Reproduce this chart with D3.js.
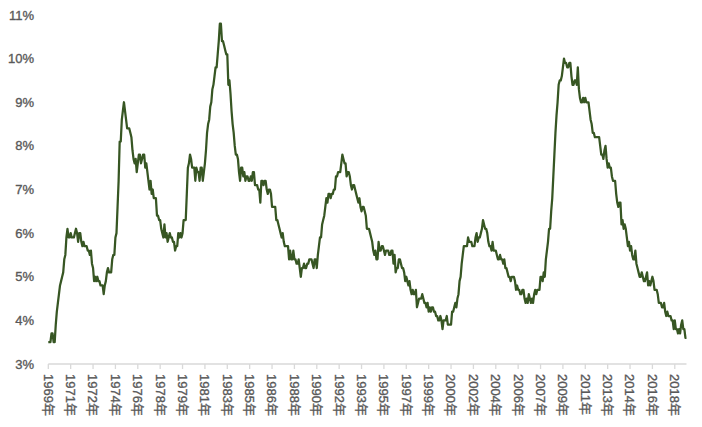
<!DOCTYPE html>
<html>
<head>
<meta charset="utf-8">
<script src="https://cdn.jsdelivr.net/npm/d3@7"></script>
<style>
  body { margin: 0; background: #fff; }
  svg text { font-family: "Liberation Sans", "Noto Sans CJK SC", sans-serif; fill: #595959; stroke: #595959; stroke-width: 0.35px; }
</style>
</head>
<body>
<svg id="chart" width="702" height="427"></svg>
<script>
// first month of the series (June 1969), monthly unemployment rate (%)
const startYear = 1969;
const startMonth = 6;
const rates = [
  3.5, 3.5, 3.5, 3.7, 3.7, 3.5, 3.5,
  3.9, 4.2, 4.4, 4.6, 4.8, 4.9, 5.0, 5.1, 5.4, 5.5, 5.9, 6.1,
  5.9, 5.9, 6.0, 5.9, 5.9, 5.9, 6.0, 6.1, 6.0, 5.8, 6.0, 6.0,
  5.8, 5.7, 5.8, 5.7, 5.7, 5.7, 5.6, 5.6, 5.5, 5.6, 5.3, 5.2,
  4.9, 5.0, 4.9, 5.0, 4.9, 4.9, 4.8, 4.8, 4.8, 4.6, 4.8, 4.9,
  5.1, 5.2, 5.1, 5.1, 5.1, 5.4, 5.5, 5.5, 5.9, 6.0, 6.6, 7.2,
  8.1, 8.1, 8.6, 8.8, 9.0, 8.8, 8.6, 8.4, 8.4, 8.4, 8.3, 8.2,
  7.9, 7.7, 7.6, 7.7, 7.4, 7.6, 7.8, 7.8, 7.6, 7.7, 7.8, 7.8,
  7.5, 7.6, 7.4, 7.2, 7.0, 7.2, 6.9, 7.0, 6.8, 6.8, 6.8, 6.4,
  6.4, 6.3, 6.3, 6.1, 6.0, 5.9, 6.2, 5.9, 6.0, 5.8, 5.9, 6.0,
  5.9, 5.9, 5.8, 5.8, 5.6, 5.7, 5.7, 6.0, 5.9, 6.0, 5.9, 6.0,
  6.3, 6.3, 6.3, 6.9, 7.5, 7.6, 7.8, 7.7, 7.5, 7.5, 7.5, 7.2,
  7.5, 7.4, 7.4, 7.2, 7.5, 7.5, 7.2, 7.4, 7.6, 7.9, 8.3, 8.5,
  8.6, 8.9, 9.0, 9.3, 9.4, 9.6, 9.8, 9.8, 10.1, 10.4, 10.8, 10.8,
  10.4, 10.4, 10.3, 10.2, 10.1, 10.1, 9.4, 9.5, 9.2, 8.8, 8.5, 8.3,
  8.0, 7.8, 7.8, 7.7, 7.4, 7.2, 7.5, 7.5, 7.3, 7.4, 7.2, 7.3,
  7.3, 7.2, 7.2, 7.3, 7.2, 7.4, 7.4, 7.1, 7.1, 7.1, 7.0, 7.0,
  6.7, 7.2, 7.2, 7.1, 7.2, 7.2, 7.0, 6.9, 7.0, 7.0, 6.9, 6.6,
  6.6, 6.6, 6.6, 6.3, 6.3, 6.2, 6.1, 6.0, 5.9, 6.0, 5.8, 5.7,
  5.7, 5.7, 5.7, 5.4, 5.6, 5.4, 5.4, 5.6, 5.4, 5.4, 5.3, 5.3,
  5.4, 5.2, 5.0, 5.2, 5.2, 5.3, 5.2, 5.2, 5.3, 5.3, 5.4, 5.4,
  5.4, 5.3, 5.2, 5.4, 5.4, 5.2, 5.5, 5.7, 5.9, 5.9, 6.2, 6.3,
  6.4, 6.6, 6.8, 6.7, 6.9, 6.9, 6.8, 6.9, 6.9, 7.0, 7.0, 7.3,
  7.3, 7.4, 7.4, 7.4, 7.6, 7.8, 7.7, 7.6, 7.6, 7.3, 7.4, 7.4,
  7.3, 7.1, 7.0, 7.1, 7.1, 7.0, 6.9, 6.8, 6.7, 6.8, 6.6, 6.5,
  6.6, 6.6, 6.5, 6.4, 6.1, 6.1, 6.1, 6.0, 5.9, 5.8, 5.6, 5.5,
  5.6, 5.4, 5.4, 5.8, 5.6, 5.6, 5.7, 5.7, 5.6, 5.5, 5.6, 5.6,
  5.6, 5.5, 5.5, 5.6, 5.6, 5.3, 5.5, 5.1, 5.2, 5.2, 5.4, 5.4,
  5.3, 5.2, 5.2, 5.1, 4.9, 5.0, 4.9, 4.8, 4.9, 4.7, 4.6, 4.7,
  4.6, 4.6, 4.7, 4.3, 4.4, 4.5, 4.5, 4.5, 4.6, 4.5, 4.4, 4.4,
  4.3, 4.4, 4.2, 4.3, 4.2, 4.3, 4.3, 4.2, 4.2, 4.1, 4.1, 4.0,
  4.0, 4.1, 4.0, 3.8, 4.0, 4.0, 4.0, 4.1, 3.9, 3.9, 3.9, 3.9,
  4.2, 4.2, 4.3, 4.4, 4.3, 4.5, 4.6, 4.9, 5.0, 5.3, 5.5, 5.7,
  5.7, 5.7, 5.7, 5.9, 5.8, 5.8, 5.8, 5.7, 5.7, 5.7, 5.9, 6.0,
  5.8, 5.9, 5.9, 6.0, 6.1, 6.3, 6.2, 6.1, 6.1, 6.0, 5.8, 5.7,
  5.7, 5.6, 5.8, 5.6, 5.6, 5.6, 5.5, 5.4, 5.4, 5.5, 5.4, 5.4,
  5.3, 5.4, 5.2, 5.2, 5.1, 5.0, 5.0, 4.9, 5.0, 5.0, 5.0, 4.9,
  4.7, 4.8, 4.7, 4.7, 4.6, 4.6, 4.7, 4.7, 4.5, 4.4, 4.5, 4.4,
  4.6, 4.5, 4.4, 4.5, 4.4, 4.6, 4.7, 4.6, 4.7, 4.7, 4.7, 5.0,
  5.0, 4.9, 5.1, 5.0, 5.4, 5.6, 5.8, 6.1, 6.1, 6.5, 6.8, 7.3,
  7.8, 8.3, 8.7, 9.0, 9.4, 9.5, 9.5, 9.6, 9.8, 10.0, 9.9, 9.9,
  9.8, 9.8, 9.9, 9.9, 9.6, 9.4, 9.4, 9.5, 9.5, 9.4, 9.8, 9.3,
  9.1, 9.0, 9.0, 9.1, 9.0, 9.1, 9.0, 9.0, 9.0, 8.8, 8.6, 8.5,
  8.3, 8.3, 8.2, 8.2, 8.2, 8.2, 8.2, 8.0, 7.8, 7.8, 7.7, 7.9,
  8.0, 7.7, 7.5, 7.6, 7.5, 7.5, 7.3, 7.2, 7.2, 7.2, 6.9, 6.7,
  6.6, 6.7, 6.7, 6.2, 6.3, 6.1, 6.2, 6.1, 5.9, 5.7, 5.8, 5.6,
  5.7, 5.5, 5.4, 5.4, 5.6, 5.3, 5.2, 5.1, 5.0, 5.0, 5.1, 5.0,
  4.9, 4.9, 5.0, 5.1, 4.8, 4.9, 4.8, 4.9, 5.0, 4.9, 4.7, 4.7,
  4.7, 4.6, 4.4, 4.4, 4.4, 4.3, 4.3, 4.4, 4.2, 4.1, 4.2, 4.1,
  4.1, 4.1, 4.0, 4.0, 3.8, 4.0, 3.8, 3.8, 3.7, 3.8, 3.7, 3.9,
  4.0, 3.8, 3.8, 3.6, 3.6
];
const yTicks = [3, 4, 5, 6, 7, 8, 9, 10, 11];
const labelEvery = 21; // one year label every 21 months

const months = rates.map((v, i) => {
  const m = startMonth - 1 + i;
  return { year: startYear + Math.floor(m / 12), month: (m % 12) + 1, value: v };
});
const keys = months.map(d => d.year + "-" + d.month);

const svg = d3.select("#chart");
const margin = { left: 48.3, right: 15.5, top: 15, bottom: 63 };
const width = 702, height = 427;

const x = d3.scalePoint()
  .domain(keys)
  .range([margin.left, width - margin.right]);

const y = d3.scaleLinear()
  .domain([3, 11])
  .range([height - margin.bottom, margin.top]);

// y axis labels (no axis line, no gridlines)
svg.append("g")
  .selectAll("text")
  .data(yTicks)
  .join("text")
  .attr("x", 34)
  .attr("y", d => y(d))
  .attr("dy", "0.35em")
  .attr("text-anchor", "end")
  .style("font-size", "13px")
  .text(d => d + "%");

// x axis line
svg.append("line")
  .attr("x1", x.range()[0])
  .attr("x2", x.range()[1])
  .attr("y1", y(3))
  .attr("y2", y(3))
  .attr("stroke", "#d9d9d9")
  .attr("stroke-width", 1.3);

const tickData = months.filter((d, i) => i % labelEvery === 0);

svg.append("g")
  .selectAll("line")
  .data(tickData)
  .join("line")
  .attr("x1", d => x(d.year + "-" + d.month))
  .attr("x2", d => x(d.year + "-" + d.month))
  .attr("y1", y(3))
  .attr("y2", y(3) + 5)
  .attr("stroke", "#d9d9d9")
  .attr("stroke-width", 1.3);

svg.append("g")
  .selectAll("text")
  .data(tickData)
  .join("text")
  .attr("transform", d => "translate(" + x(d.year + "-" + d.month) + "," + (y(3) + 10) + ") rotate(90)")
  .attr("dy", "0.35em")
  .attr("text-anchor", "start")
  .style("font-size", "13px")
  .text(d => d.year + "年");

// the series line
const line = d3.line()
  .x((d, i) => x(keys[i]))
  .y(d => y(d.value));

svg.append("path")
  .datum(months)
  .attr("d", line)
  .attr("fill", "none")
  .attr("stroke", "#375623")
  .attr("stroke-width", 2.25)
  .attr("stroke-linejoin", "round");
</script>
</body>
</html>
